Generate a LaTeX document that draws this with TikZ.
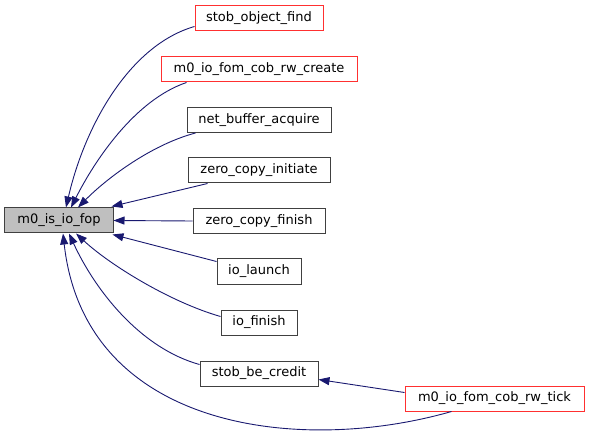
\documentclass[tikz,border=0pt]{standalone}
\usepackage{fontspec}
\setmainfont{DejaVu Sans}
\usetikzlibrary{arrows.meta}
\definecolor{edgeblue}{HTML}{191970}
\definecolor{boxred}{HTML}{FF3030}
\definecolor{boxgray}{HTML}{404040}
\definecolor{fillgray}{HTML}{BFBFBF}
\begin{document}
\begin{tikzpicture}[x=1bp,y=-1bp,
  fn/.style={draw=boxgray,line width=1bp,fill=white,inner sep=0pt,minimum height=25bp,font=\fontsize{13bp}{15bp}\selectfont},
  fnred/.style={fn,draw=boxred},
  call/.style={draw=edgeblue,line width=0.9bp,-{Triangle[length=11bp,width=8bp]}}]
\useasboundingbox (0,0) rectangle (589,437);
\node[fn,fill=fillgray,minimum width=108bp] (fop) at (59,220.5) {m0\_is\_io\_fop};
\node[fnred,minimum width=128bp] (sof) at (259,18.5) {stob\_object\_find};
\node[fnred,minimum width=196bp] (crt) at (259,69.5) {m0\_io\_fom\_cob\_rw\_create};
\node[fn,minimum width=144bp] (nba) at (259,120) {net\_buffer\_acquire};
\node[fn,minimum width=142bp] (zci) at (259,170.5) {zero\_copy\_initiate};
\node[fn,minimum width=132bp] (zcf) at (259,221) {zero\_copy\_finish};
\node[fn,minimum width=84bp] (iol) at (259,271.5) {io\_launch};
\node[fn,minimum width=76bp] (iof) at (259,322.5) {io\_finish};
\node[fn,minimum width=118bp] (sbc) at (259,373.5) {stob\_be\_credit};
\node[fnred,minimum width=179bp] (tick) at (494.5,398.5) {m0\_io\_fom\_cob\_rw\_tick};
\draw[call] ([yshift=-8bp]sof.west) .. controls (130,45) and (85,125) .. ([xshift=7bp]fop.north);
\draw[call] ([xshift=26bp]crt.south west) .. controls (135,100) and (95,160) .. ([xshift=12bp]fop.north);
\draw[call] ([xshift=9bp]nba.south west) .. controls (150,145) and (105,180) .. ([xshift=19bp]fop.north);
\draw[call] ([xshift=20bp]zci.south west) -- ([xshift=-2bp,yshift=1bp]fop.north east);
\draw[call] (zcf.west) -- (fop.east);
\draw[call] ([yshift=-3bp]iol.north west) -- ([xshift=-1bp,yshift=-1bp]fop.south east);
\draw[call] ([yshift=6bp]iof.west) .. controls (170,302) and (110,265) .. ([xshift=17bp]fop.south);
\draw[call] ([yshift=9bp]sbc.west) .. controls (140,348) and (95,290) .. ([xshift=10bp]fop.south);
\draw[call] ([xshift=47bp]tick.south west) .. controls (300,455) and (85,430) .. ([xshift=4bp]fop.south);
\draw[call] ([yshift=6bp]tick.west) -- ([yshift=-6bp]sbc.east);
\end{tikzpicture}
\end{document}
